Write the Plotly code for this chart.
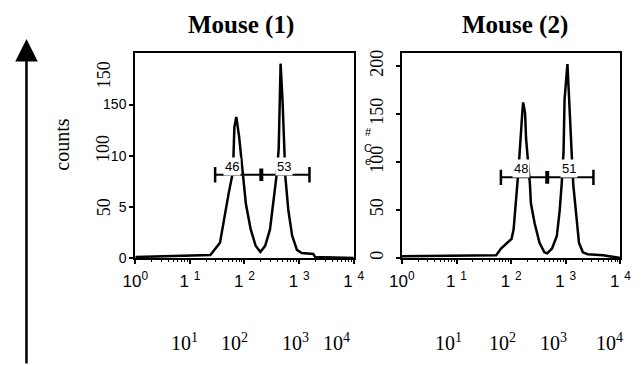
import math
import plotly.graph_objects as go

W, H = 641, 365

# ---- data ----
m1_x = [1, 23.7, 35.6, 43.6, 51.2, 60.3, 62.7, 65.3, 70.8, 80.0, 86.7, 94.2, 106, 130, 160, 195,
        239, 293, 344, 389, 423, 440, 458, 497, 538, 561, 634, 745, 912, 1117, 1820, 1972, 10000]
m1_y = [1, 3, 15, 44, 63, 82, 98, 128, 138, 118, 98, 79, 53, 28, 12, 6,
        12, 28, 60, 82, 107, 154, 190, 154, 107, 79, 47, 22, 8, 5, 4, 1, 0]

m2_x = [1, 53.3, 65.3, 80.0, 102, 111, 120, 130, 141, 147, 160, 166, 180, 188, 203, 221, 230, 270,
        331, 406, 458, 561, 687, 776, 842, 912, 951, 1031, 1074, 1117, 1213, 1315, 1371, 1545,
        1746, 2056, 2518, 4819, 10000]
m2_y = [2, 3, 10, 15, 20, 30, 50, 77, 104, 124, 151, 162, 151, 124, 104, 77, 57, 36,
        16, 6, 5, 10, 23, 50, 77, 111, 165, 198, 202, 182, 131, 97, 77, 43,
        16, 6, 4, 3, 0]

gate1_x = [29, 203, 1547]
gate1_y = 81.5
gate1_labels = ["46", "53"]
gate1_label_x = [60, 538]

gate2_x = [65, 458, 3212]
gate2_y = 84
gate2_labels = ["48", "51"]
gate2_label_x = [153, 1164]

titles = ["Mouse (1)", "Mouse (2)"]
x_tickvals = [1, 10, 100, 1000, 10000]
x_ticktext = ["10<sup>0</sup>", "1 <sup>1</sup>", "1 <sup>2</sup>", "1 <sup>3</sup>", "1 <sup>4</sup>"]
y1_tickvals = [0, 50, 100, 150]
y1_ticktext = ["0", "5", "10", "150"]
y1_rot_labels = ["50", "100", "150"]
y2_tickvals = [0, 50, 100, 150, 200]
y2_ticktext = ["0", "50", "100", "150", "200"]
bottom_labels = ["10<sup>1</sup>", "10<sup>2</sup>", "10<sup>3</sup>", "10<sup>4</sup>"]

SERIF = "Liberation Serif"
SANS = "Liberation Sans"

def px(x):
    return x / W

def py(y):
    return 1 - y / H

fig = go.Figure()
fig.add_trace(go.Scatter(x=m1_x, y=m1_y, mode="lines", line=dict(color="black", width=2.5),
                         xaxis="x", yaxis="y", showlegend=False))
fig.add_trace(go.Scatter(x=m2_x, y=m2_y, mode="lines", line=dict(color="black", width=2.5),
                         xaxis="x2", yaxis="y2", showlegend=False))

for gx, gy, xa, ya in [(gate1_x, gate1_y, "x", "y"), (gate2_x, gate2_y, "x2", "y2")]:
    fig.add_trace(go.Scatter(x=[gx[0], gx[2]], y=[gy, gy], mode="lines+markers",
                             line=dict(color="black", width=2),
                             marker=dict(symbol="line-ns-open", size=11, color="black",
                                         line=dict(color="black", width=2.5)),
                             xaxis=xa, yaxis=ya, showlegend=False))
    fig.add_trace(go.Scatter(x=[gx[1]], y=[gy], mode="markers",
                             marker=dict(symbol="line-ns-open", size=9, color="black",
                                         line=dict(color="black", width=4)),
                             xaxis=xa, yaxis=ya, showlegend=False))

xaxis_common = dict(type="log", range=[0, 4], showline=True, mirror=True, linecolor="black", linewidth=2,
                    showgrid=False, zeroline=False, ticks="outside", ticklen=4, tickwidth=2,
                    tickcolor="black", tickmode="array", tickvals=x_tickvals, ticktext=x_ticktext,
                    ticklabelstandoff=3,
                    tickfont=dict(family=SANS, size=17, color="black"),
                    minor=dict(ticks="outside", ticklen=2, tickcolor="black", tickwidth=1,
                               tickmode="array",
                               tickvals=[k * 10 ** e for e in range(4) for k in range(2, 10)]))
yaxis_common = dict(showline=True, mirror=True, linecolor="black", linewidth=2, showgrid=False,
                    zeroline=False, ticks="outside", ticklen=4, tickwidth=1.5, tickcolor="black",
                    domain=[py(263), py(52)])

fig.update_layout(
    width=W, height=H, margin=dict(l=0, r=0, t=0, b=0), autosize=False,
    paper_bgcolor="white", plot_bgcolor="white", showlegend=False,
    xaxis=dict(domain=[px(127), px(354)], anchor="y", **xaxis_common),
    xaxis2=dict(domain=[px(404), px(631)], anchor="y2", **xaxis_common),
    yaxis=dict(anchor="x", range=[0, 200], tickmode="array", tickvals=y1_tickvals, ticktext=y1_ticktext,
               tickfont=dict(family=SANS, size=14, color="black"), **yaxis_common),
    yaxis2=dict(anchor="x2", range=[0, 213], tickmode="array", tickvals=y2_tickvals, ticktext=y2_ticktext,
                tickangle=-90, ticklabelstandoff=6,
                tickfont=dict(family=SERIF, size=18, color="black"), **yaxis_common),
)

def pa(**kw):
    d = dict(xref="paper", yref="paper", xanchor="center", yanchor="middle", showarrow=False)
    d.update(kw)
    return d

ann = []
# titles
for t, cx in zip(titles, [237, 522]):
    ann.append(pa(text="<b>%s</b>" % t, x=px(cx), y=py(23),
                  font=dict(family=SERIF, size=25, color="black")))
# gate labels
for labels, lx, gy, xa, ya in [(gate1_labels, gate1_label_x, gate1_y, "x", "y"),
                               (gate2_labels, gate2_label_x, gate2_y, "x2", "y2")]:
    for lab, xv in zip(labels, lx):
        ann.append(dict(text=lab, x=math.log10(xv), y=gy, xref=xa, yref=ya, xanchor="center",
                        yanchor="bottom", yshift=-1, showarrow=False, bgcolor="white", borderpad=1,
                        font=dict(family=SANS, size=13, color="black")))
# rotated labels on left panel
for lab, yy in zip(y1_rot_labels, [210, 150, 74]):
    ann.append(pa(text=lab, x=px(94), y=py(yy), textangle=-90,
                  font=dict(family=SERIF, size=18, color="black")))
# stray glyphs on right panel
for g, yy in zip(["#", "C", "e"], [133, 150, 163]):
    ann.append(pa(text=g, x=px(369), y=py(yy), font=dict(family=SANS, size=11, color="black")))
# counts label
ann.append(pa(text="counts", x=px(50), y=py(146), textangle=-90,
              font=dict(family=SERIF, size=20, color="black")))
# big arrow
ann.append(dict(x=px(14), y=py(37), xref="paper", yref="paper", ax=0, ay=330,
                axref="pixel", ayref="pixel", showarrow=True, arrowhead=2, arrowsize=1.8,
                arrowwidth=2.5, arrowcolor="black", text=""))
# bottom row labels
for lab, xx in zip(bottom_labels, [178, 230, 293, 336]):
    ann.append(pa(text=lab, x=px(xx), y=py(350), font=dict(family=SERIF, size=20, color="black")))
for lab, xx in zip(bottom_labels, [452, 509, 562, 620]):
    ann.append(pa(text=lab, x=px(xx), y=py(350), font=dict(family=SERIF, size=20, color="black")))

fig.update_layout(annotations=ann)
fig.write_html("out.html")
